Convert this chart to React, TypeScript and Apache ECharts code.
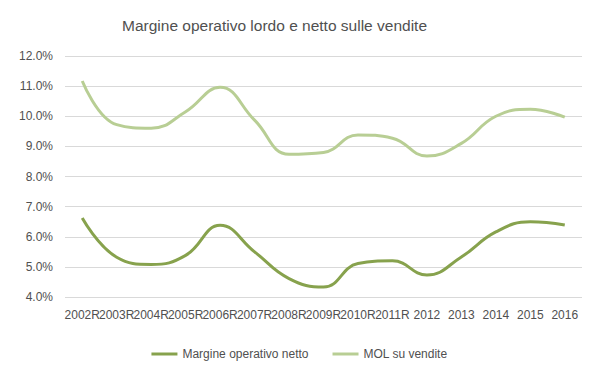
import React, { useEffect, useRef } from "react";
import * as echarts from "echarts";

const categories = [
  "2002R", "2003R", "2004R", "2005R", "2006R", "2007R", "2008R", "2009R",
  "2010R", "2011R", "2012", "2013", "2014", "2015", "2016",
];
const margineNetto = [6.62, 5.32, 5.08, 5.38, 6.38, 5.5, 4.61, 4.33, 5.11, 5.2, 4.73, 5.33, 6.16, 6.5, 6.39];
const molVendite = [11.17, 9.72, 9.6, 10.15, 10.96, 9.87, 8.74, 8.8, 9.38, 9.27, 8.68, 9.1, 10.0, 10.23, 9.97];
const seriesNames = ["Margine operativo netto", "MOL su vendite"];
const title = "Margine operativo lordo e netto sulle vendite";

const DARK = "#87A24D";
const LIGHT = "#B8CE94";
const TEXT = "#505050";
const FONT = "'Liberation Sans', Arial, sans-serif";

export default function App() {
  const ref = useRef<HTMLDivElement>(null);
  useEffect(() => {
    if (!ref.current) return;
    const chart = echarts.init(ref.current, null, { renderer: "svg" });
    chart.setOption({
      animation: false,
      backgroundColor: "#ffffff",
      title: {
        text: title,
        left: 117,
        top: 12,
        textStyle: { fontFamily: FONT, fontSize: 15.5, fontWeight: "normal", color: TEXT },
      },
      legend: {
        bottom: 13,
        left: "center",
        itemWidth: 26,
        itemHeight: 3,
        itemGap: 24,
        icon: "rect",
        textStyle: { fontFamily: FONT, fontSize: 12, color: TEXT },
        data: seriesNames,
      },
      grid: { left: 65, right: 17, top: 56, bottom: 81 },
      xAxis: {
        type: "category",
        data: categories,
        axisTick: { show: false },
        axisLine: { show: false },
        axisLabel: { interval: 0, fontFamily: FONT, fontSize: 12, color: TEXT, margin: 12 },
      },
      yAxis: {
        type: "value",
        min: 4,
        max: 12,
        interval: 1,
        axisLine: { show: false },
        axisTick: { show: false },
        splitLine: { lineStyle: { color: "#D9D9D9", width: 1 } },
        axisLabel: {
          fontFamily: FONT,
          fontSize: 12,
          color: TEXT,
          margin: 12,
          formatter: (v: number) => `${v.toFixed(1)}%`,
        },
      },
      series: [
        {
          name: seriesNames[0],
          type: "line",
          data: margineNetto,
          smooth: 0.45,
          showSymbol: false,
          symbol: "none",
          lineStyle: { color: DARK, width: 3 },
          itemStyle: { color: DARK },
        },
        {
          name: seriesNames[1],
          type: "line",
          data: molVendite,
          smooth: 0.45,
          showSymbol: false,
          symbol: "none",
          lineStyle: { color: LIGHT, width: 3 },
          itemStyle: { color: LIGHT },
        },
      ],
    });
    return () => chart.dispose();
  }, []);
  return (
    <div
      ref={ref}
      style={{ position: "fixed", left: 0, top: 0, width: 599, height: 378 }}
    />
  );
}
